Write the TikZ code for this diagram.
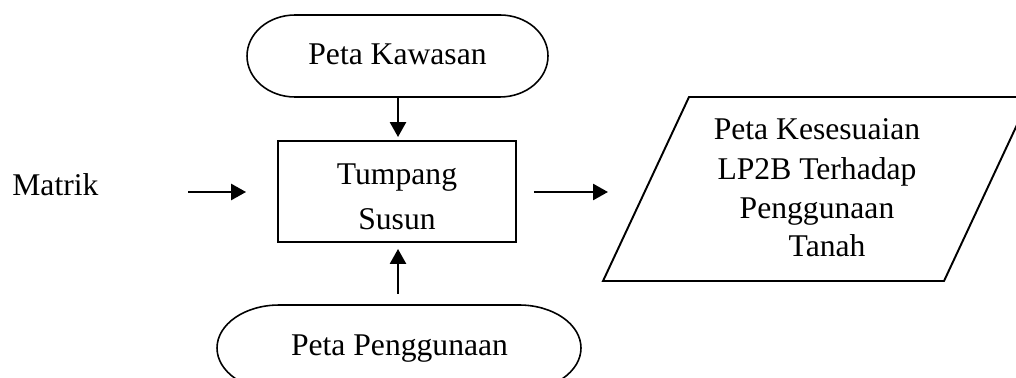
\documentclass[tikz,border=0pt]{standalone}
\usepackage{fontspec}
\setmainfont{Liberation Serif}
\usetikzlibrary{arrows.meta}
\begin{document}
\begin{tikzpicture}[x=0.02cm,y=-0.02cm,
  termline/.style={line width=0.9pt},
  boxline/.style={line width=1.1pt},
  arr/.style={line width=1.5pt,-{Triangle[length=0.3cm,width=0.32cm]}},
  lbl/.style={inner sep=0pt,anchor=base,font=\fontsize{18}{22}\selectfont},
  area/.style={inner sep=0pt,draw=none}]
\useasboundingbox (0,0) rectangle (1016,378);
\clip (0,0) rectangle (1016,378);

% shape areas
\node[area,minimum width=6.02cm,minimum height=1.64cm] (top) at (397.5,56) {};
\node[draw,boxline,inner sep=0pt,minimum width=4.76cm,minimum height=2.02cm] (box) at (397,191.5) {};
\node[area,minimum width=7.28cm,minimum height=1.72cm] (bot) at (399,348) {};
\node[area,minimum width=4cm,minimum height=3.6cm] (out) at (816.5,189) {};

% terminator outlines
\draw[termline] (295,15) -- (500,15)
  arc[start angle=90,end angle=-90,x radius=0.96cm,y radius=0.82cm]
  -- (295,97)
  arc[start angle=270,end angle=90,x radius=0.96cm,y radius=0.82cm] -- cycle;
\draw[termline] (279,305) -- (519,305)
  arc[start angle=90,end angle=-90,x radius=1.24cm,y radius=0.86cm]
  -- (279,391)
  arc[start angle=270,end angle=90,x radius=1.24cm,y radius=0.86cm] -- cycle;

% parallelogram
\draw[boxline] (603,281) -- (689,97) -- (1030,97) -- (944,281) -- cycle;

% texts
\node[lbl] (tk) at (397.5,65) {Peta Kawasan};
\node[lbl] (tt) at (397,184) {Tumpang};
\node[lbl] (ts) at (397,229) {Susun};
\node[lbl,anchor=base west] (mat) at (12,195) {Matrik};
\node[lbl] (o1) at (817,140) {Peta Kesesuaian};
\node[lbl] (o2) at (817,179) {LP2B Terhadap};
\node[lbl] (o3) at (817,218) {Penggunaan};
\node[lbl] (o4) at (827,256) {Tanah};
\node[lbl] (tp) at (399.5,355) {Peta Penggunaan};

% connectors
\coordinate (lin) at (188,192);
\coordinate (rout) at (608,192);
\draw[arr,shorten >=0.06cm] (top.south -| 398,0) -- (box.north -| 398,0);
\draw[arr,shorten <=0.22cm,shorten >=0.12cm] (bot.north -| 398,0) -- (box.south -| 398,0);
\draw[arr,shorten >=0.62cm] (lin) -- (lin -| box.west);
\draw[arr,shorten <=0.34cm] (rout -| box.east) -- (rout);
\end{tikzpicture}
\end{document}
